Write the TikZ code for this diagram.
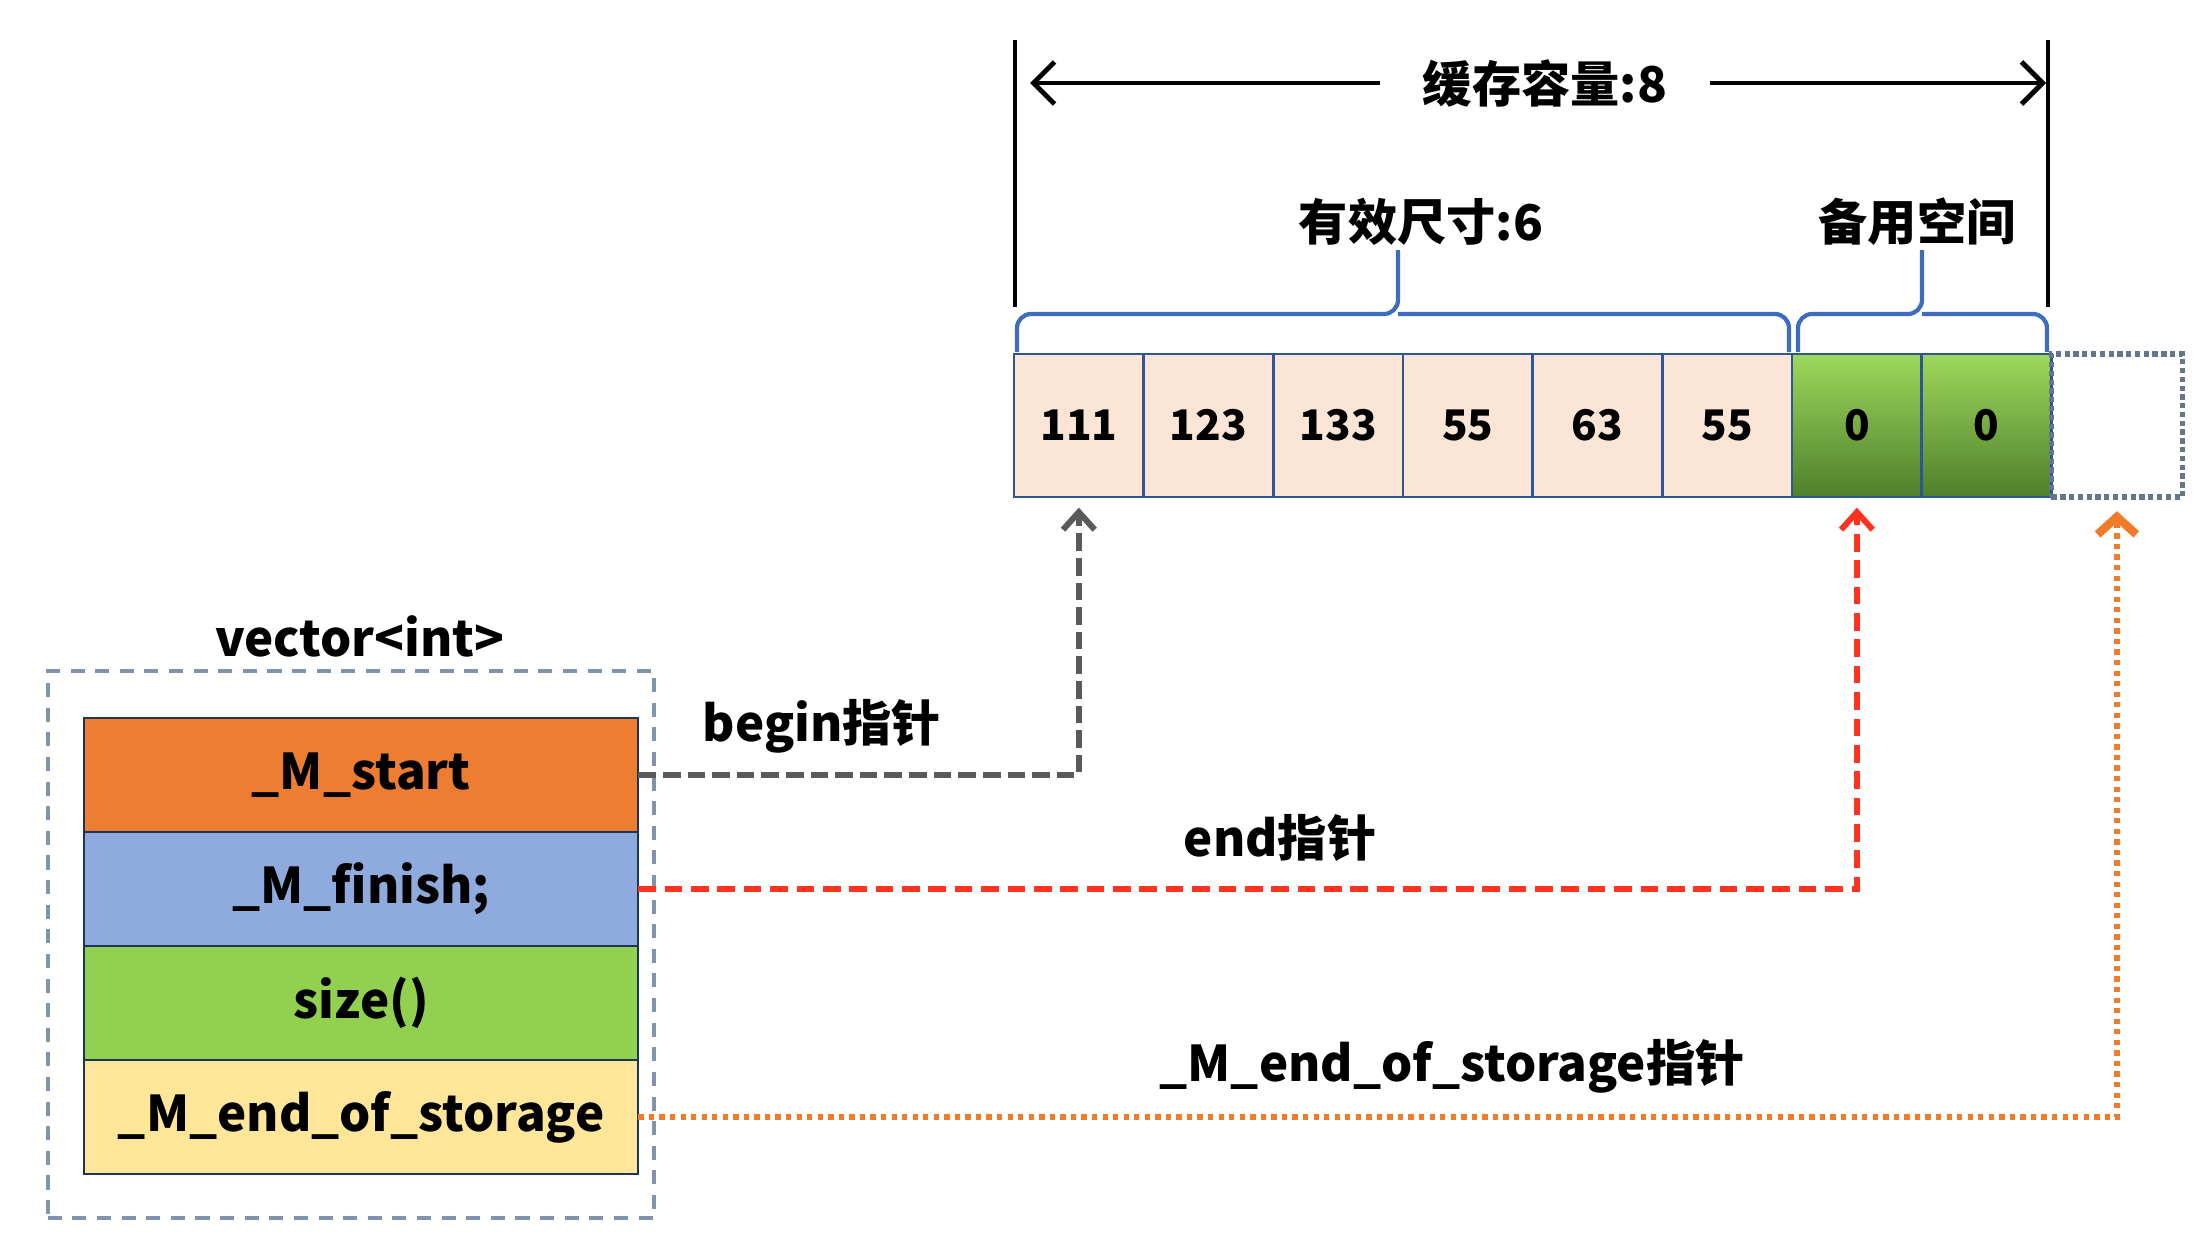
\documentclass[tikz,border=0pt]{standalone}
\usepackage{fontspec}
\setmainfont{Noto Sans CJK SC}
\usetikzlibrary{positioning,arrows.meta}

\definecolor{cellpeach}{HTML}{FBE5D6}
\definecolor{cellgreen}{HTML}{9ED85C}
\definecolor{celldark}{HTML}{4F7F2B}
\definecolor{edgeblue}{HTML}{2F5597}
\definecolor{bracketblue}{HTML}{3E6DC0}
\definecolor{boxgray}{HTML}{7F93AD}
\definecolor{startorange}{HTML}{ED7D31}
\definecolor{finishblue}{HTML}{8FAADC}
\definecolor{sizegreen}{HTML}{92D050}
\definecolor{eosyellow}{HTML}{FFE699}
\definecolor{ptrgray}{HTML}{5A5A5A}
\definecolor{ptrred}{HTML}{FF3320}
\definecolor{ptrorange}{HTML}{F07C2A}

\tikzset{
    cellbox/.style={draw=edgeblue,line width=0.8pt,fill=cellpeach,outer sep=0pt,inner sep=0pt,
        minimum width=1.296cm,minimum height=1.43cm,font=\fontsize{12}{14}\selectfont\bfseries},
    sparebox/.style={cellbox,top color=cellgreen,bottom color=celldark},
    emptybox/.style={draw=boxgray!80!black,line width=1.6pt,dash pattern=on 1.5pt off 1pt,outer sep=0pt,
        minimum width=1.31cm,minimum height=1.43cm},
    rowbox/.style={draw=edgeblue!60!black,line width=0.6pt,outer sep=0pt,inner sep=0pt,
        minimum width=5.54cm,minimum height=1.14cm},
    dashbox/.style={draw=boxgray,line width=1pt,dash pattern=on 4pt off 3pt,
        minimum width=6.06cm,minimum height=5.47cm,inner sep=0pt},
    dimline/.style={line width=1.2pt},
    dimarrow/.style={line width=1.4pt,-{Straight Barb[length=6pt,width=12pt]}},
    captext/.style={inner xsep=12pt},
    bracket/.style={draw=bracketblue,line width=1.2pt,rounded corners=4pt},
    beginptr/.style={draw=ptrgray,line width=1.7pt,dash pattern=on 5pt off 2pt,
        -{Straight Barb[length=5pt,width=9pt]},shorten >=3pt},
    endptr/.style={draw=ptrred,line width=1.7pt,dash pattern=on 5pt off 2.5pt,
        -{Straight Barb[length=5pt,width=9pt]},shorten >=3pt},
    eosptr/.style={draw=ptrorange,line width=1.7pt,dash pattern=on 1.5pt off 1.5pt,
        -{Straight Barb[length=5pt,width=11pt,line width=2.4pt]},shorten >=4pt}
}

\begin{document}
\begin{tikzpicture}[x=0.01cm,y=-0.01cm,font=\fontsize{14}{17}\selectfont\bfseries]
                \useasboundingbox (0,0) rectangle (2200,1248);

                \coordinate (lefttop) at (1015,40);
                \coordinate (leftbot) at (1015,307);
                \coordinate (righttop) at (2048,40);
                \coordinate (rightbot) at (2048,307);
                \draw[dimline] (lefttop) -- (leftbot);
                \draw[dimline] (righttop) -- (rightbot);

                \node[captext] (cap) at (1545,83) {缓存容量:8};
                \coordinate (capleft) at (1030,83);
                \coordinate (capright) at (2046,83);
                \draw[dimarrow] (cap) -- (capleft);
                \draw[dimarrow] (cap) -- (capright);

                \node[cellbox,anchor=north west] (c1) at (1014,354) {111};
                \node[cellbox,right=0 of c1] (c2) {123};
                \node[cellbox,right=0 of c2] (c3) {133};
                \node[cellbox,right=0 of c3] (c4) {55};
                \node[cellbox,right=0 of c4] (c5) {63};
                \node[cellbox,right=0 of c5] (c6) {55};
                \node[sparebox,right=0 of c6] (c7) {0};
                \node[sparebox,right=0 of c7] (c8) {0};
                \node[emptybox,right=0 of c8] (c9) {};

                \node (usedlbl) at (1421,222) {有效尺寸:6};
                \node (sparelbl) at (1917,222) {备用空间};
                \coordinate (usedtip) at (1398,250);
                \coordinate (sparetip) at (1922,250);
                \draw[bracket] (1017,352) |- (1398,314) -- (usedtip);
                \draw[bracket] (1398,314) -| (1789,352);
                \draw[bracket] (1798,352) |- (1922,314) -- (sparetip);
                \draw[bracket] (1922,314) -| (2047,352);

                \node[dashbox,anchor=north west] (vecbox) at (46,669) {};
                \node (vectitle) at (360,636) {vector<int>};
                \node[rowbox,fill=startorange,anchor=north west] (start) at (84,718) {\_M\_start};
                \node[rowbox,fill=finishblue,below=0 of start] (finish) {\_M\_finish;};
                \node[rowbox,fill=sizegreen,below=0 of finish] (size) {size()};
                \node[rowbox,fill=eosyellow,below=0 of size] (eos) {\_M\_end\_of\_storage};

                \draw[beginptr] (start) -| (c1);
                \draw[endptr] (finish) -| (c7);
                \draw[eosptr] (eos) -| (c9);

                \node (beginlbl) at (822,726) {begin指针};
                \node (endlbl) at (1280,838) {end指针};
                \node (eoslbl) at (1452,1066) {\_M\_end\_of\_storage指针};
            \end{tikzpicture}
\end{document}
